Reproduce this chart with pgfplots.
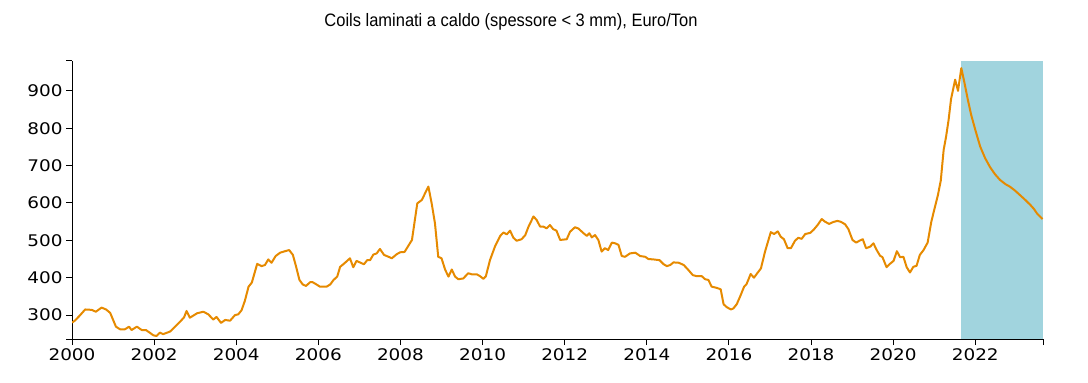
\documentclass[border=0pt]{standalone}
\usepackage{fontspec}
\setmainfont{DejaVu Sans}
\newfontfamily\tickfont[FakeStretch=1.15]{DejaVu Sans}
\newfontfamily\titlefont[FakeStretch=0.915]{Liberation Sans}
\usepackage{pgfplots}
\pgfplotsset{compat=1.18}
\definecolor{lineorange}{RGB}{230,138,0}
\definecolor{shadeblue}{RGB}{161,212,222}
\begin{document}
\begin{tikzpicture}
\path[use as bounding box] (-72bp,-44bp) rectangle (1016bp,339bp);
\begin{axis}[
 at={(0,0)}, anchor=south west,
 scale only axis, width=971bp, height=278bp,
 xmin=2000, xmax=2023.65, ymin=236, ymax=980,
 axis x line*=bottom, axis y line*=left,
 axis line style={black, line width=1bp},
 xtick={2000,2002,...,2022}, ytick={300,400,...,900},
 extra x ticks={2023.65}, extra x tick labels={},
 extra y ticks={236,980}, extra y tick labels={},
 tick align=outside, major tick length=6bp,
 tick style={black, line width=1bp},
 ticklabel style={font=\tickfont\fontsize{16bp}{18bp}\selectfont},
 /pgf/number format/assume math mode=true,
 /pgf/number format/1000 sep={},
]
\addplot[draw=none, fill=shadeblue, forget plot] coordinates {(2021.66,980) (2023.65,980)} \closedcycle;
\addplot[lineorange, line width=2bp, line join=round] coordinates {
(2000.00,280) (2000.07,285) (2000.20,300) (2000.32,315) (2000.48,314) (2000.58,309) (2000.72,320) (2000.83,315) (2000.93,306)
(2001.07,269) (2001.17,262) (2001.29,262) (2001.39,269) (2001.45,260) (2001.58,269) (2001.70,260) (2001.80,260) (2001.88,254) (2001.98,246)
(2002.06,244) (2002.14,253) (2002.22,249) (2002.39,256) (2002.51,269) (2002.63,282) (2002.73,294) (2002.79,311) (2002.87,293)
(2003.05,305) (2003.20,309) (2003.32,302) (2003.44,288) (2003.52,295) (2003.63,279) (2003.73,287) (2003.85,285) (2003.97,300)
(2004.05,302) (2004.13,313) (2004.21,338) (2004.30,376) (2004.38,387) (2004.51,437) (2004.62,431) (2004.70,434) (2004.78,449) (2004.86,440) (2004.96,458)
(2005.07,467) (2005.19,471) (2005.29,474) (2005.38,461) (2005.46,429) (2005.54,394) (2005.62,382) (2005.70,378) (2005.80,388) (2005.86,388) (2005.94,383)
(2006.04,376) (2006.20,376) (2006.29,382) (2006.37,394) (2006.46,403) (2006.53,429) (2006.65,440) (2006.77,452) (2006.85,428) (2006.93,445)
(2007.11,436) (2007.19,447) (2007.26,447) (2007.34,462) (2007.42,465) (2007.50,477) (2007.60,461) (2007.71,456) (2007.79,452) (2007.91,463) (2007.99,468)
(2008.10,469) (2008.19,485) (2008.28,501) (2008.41,599) (2008.52,608) (2008.60,626) (2008.68,644) (2008.76,599) (2008.84,546) (2008.92,456)
(2009.00,452) (2009.09,421) (2009.17,403) (2009.25,422) (2009.33,403) (2009.41,396) (2009.53,398) (2009.65,412) (2009.74,409) (2009.86,409) (2009.94,404)
(2010.02,397) (2010.08,404) (2010.18,447) (2010.30,483) (2010.43,512) (2010.51,521) (2010.59,516) (2010.67,526) (2010.75,507) (2010.83,499) (2010.95,503)
(2011.04,514) (2011.12,537) (2011.24,564) (2011.32,554) (2011.40,537) (2011.48,537) (2011.56,532) (2011.64,541) (2011.72,530) (2011.80,526) (2011.89,501)
(2012.05,503) (2012.13,523) (2012.25,535) (2012.33,532) (2012.46,519) (2012.54,512) (2012.60,519) (2012.66,508) (2012.74,514) (2012.82,501) (2012.90,470) (2012.98,479)
(2013.06,474) (2013.15,494) (2013.23,492) (2013.31,488) (2013.39,458) (2013.47,456) (2013.59,465) (2013.72,467) (2013.84,458) (2013.96,456)
(2014.04,450) (2014.16,449) (2014.31,447) (2014.41,436) (2014.49,431) (2014.57,434) (2014.65,441) (2014.78,440) (2014.90,434)
(2015.01,421) (2015.12,407) (2015.22,404) (2015.34,404) (2015.42,396) (2015.50,394) (2015.58,376) (2015.70,373) (2015.80,369) (2015.87,329) (2015.95,321)
(2016.05,315) (2016.11,318) (2016.19,329) (2016.27,349) (2016.37,376) (2016.43,383) (2016.53,410) (2016.61,400) (2016.69,412) (2016.78,425) (2016.88,470)
(2017.02,522) (2017.10,517) (2017.19,524) (2017.26,510) (2017.34,503) (2017.43,479) (2017.51,479) (2017.61,499) (2017.69,507) (2017.77,504) (2017.86,517) (2017.98,520)
(2018.06,528) (2018.16,541) (2018.26,557) (2018.34,550) (2018.44,544) (2018.54,549) (2018.64,552) (2018.72,550) (2018.83,543) (2018.91,530)
(2019.01,501) (2019.10,494) (2019.18,499) (2019.26,503) (2019.34,479) (2019.44,483) (2019.52,492) (2019.60,474) (2019.68,459) (2019.74,455) (2019.84,428) (2019.92,437)
(2020.01,445) (2020.09,471) (2020.17,455) (2020.25,456) (2020.33,428) (2020.41,414) (2020.49,429) (2020.57,432) (2020.65,461) (2020.74,474) (2020.84,494) (2020.93,550)
(2021.01,586) (2021.09,621) (2021.16,660) (2021.23,742) (2021.29,778) (2021.35,822) (2021.41,878) (2021.51,930) (2021.58,900) (2021.66,961)
(2021.74,920) (2021.82,876) (2021.90,836) (2022.00,796) (2022.12,751) (2022.24,720) (2022.36,696) (2022.48,677) (2022.60,662) (2022.74,650) (2022.84,644) (2022.97,633)
(2023.09,621) (2023.22,608) (2023.34,595) (2023.43,584) (2023.51,571) (2023.64,557)
};
\end{axis}
\node[anchor=base, font=\titlefont\fontsize{18bp}{20bp}\selectfont] at (511bp-72bp,312bp) {Coils laminati a caldo (spessore < 3 mm), Euro/Ton};
\end{tikzpicture}
\end{document}
